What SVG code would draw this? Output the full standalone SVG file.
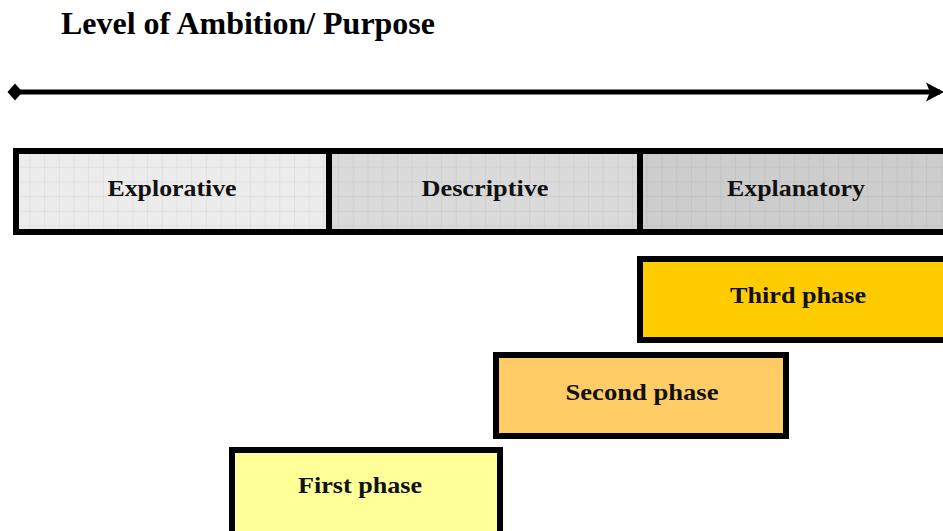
<svg xmlns="http://www.w3.org/2000/svg" width="943" height="531" viewBox="0 0 943 531">
  <defs>
    <!-- fine grid texture for the purpose bands -->
    <pattern id="grid" x="1" y="6" width="14.7" height="14.7" patternUnits="userSpaceOnUse">
      <path d="M14.7 0 V14.7 M0 14.7 H14.7" fill="none" stroke="#000" stroke-opacity="0.09" stroke-width="1"/>
    </pattern>
    <marker id="arrowEnd" markerUnits="userSpaceOnUse" markerWidth="20" markerHeight="20" refX="14" refY="9.5" orient="auto" overflow="visible">
      <path d="M0 0 L18 9.5 L0 19 L4 9.5 Z" fill="#000"/>
    </marker>
    <marker id="diamondStart" markerUnits="userSpaceOnUse" markerWidth="16" markerHeight="18" refX="7.5" refY="9" orient="auto" overflow="visible">
      <path d="M0 9 L7.5 0.5 L15 9 L7.5 17.5 Z" fill="#000"/>
    </marker>
  </defs>
  <style>
    .band { stroke: #000; stroke-width: 6; }
    .phase { stroke: #000; stroke-width: 6; }
    .label { font-family: "Liberation Serif", "Times New Roman", serif; font-weight: bold; font-size: 24px; fill: #111; text-anchor: middle; }
    .title { font-family: "Liberation Serif", "Times New Roman", serif; font-weight: bold; font-size: 31px; fill: #000; }
  </style>

  <rect width="943" height="531" fill="#fff"/>

  <text class="title" x="61" y="34" textLength="374" lengthAdjust="spacingAndGlyphs">Level of Ambition/ Purpose</text>

  <g id="connectors">
    <line x1="15" y1="92" x2="940" y2="92" stroke="#000" stroke-width="5" marker-start="url(#diamondStart)" marker-end="url(#arrowEnd)"/>
  </g>

  <g id="explorative">
    <rect class="band" x="16" y="151" width="313" height="81" fill="#ececec"/>
    <rect x="19" y="154" width="307" height="75" fill="url(#grid)"/>
    <text class="label" x="172" y="196" textLength="129" lengthAdjust="spacingAndGlyphs">Explorative</text>
  </g>

  <g id="descriptive">
    <rect class="band" x="329" y="151" width="311" height="81" fill="#dadada"/>
    <rect x="332" y="154" width="305" height="75" fill="url(#grid)"/>
    <text class="label" x="485" y="196" textLength="127" lengthAdjust="spacingAndGlyphs">Descriptive</text>
  </g>

  <g id="explanatory">
    <rect class="band" x="640" y="151" width="330" height="81" fill="#cdcdcd"/>
    <rect x="643" y="154" width="324" height="75" fill="url(#grid)"/>
    <text class="label" x="796" y="196" textLength="138" lengthAdjust="spacingAndGlyphs">Explanatory</text>
  </g>

  <g id="third-phase">
    <rect class="phase" x="640" y="259" width="330" height="81" fill="#ffcc00"/>
    <text class="label" x="798" y="303" textLength="136" lengthAdjust="spacingAndGlyphs">Third phase</text>
  </g>

  <g id="second-phase">
    <rect class="phase" x="496" y="355" width="290" height="81" fill="#ffcc66"/>
    <text class="label" x="642" y="400" textLength="153" lengthAdjust="spacingAndGlyphs">Second phase</text>
  </g>

  <g id="first-phase">
    <rect class="phase" x="232" y="450" width="268" height="100" fill="#ffff99"/>
    <text class="label" x="360" y="493" textLength="124" lengthAdjust="spacingAndGlyphs">First phase</text>
  </g>
</svg>
